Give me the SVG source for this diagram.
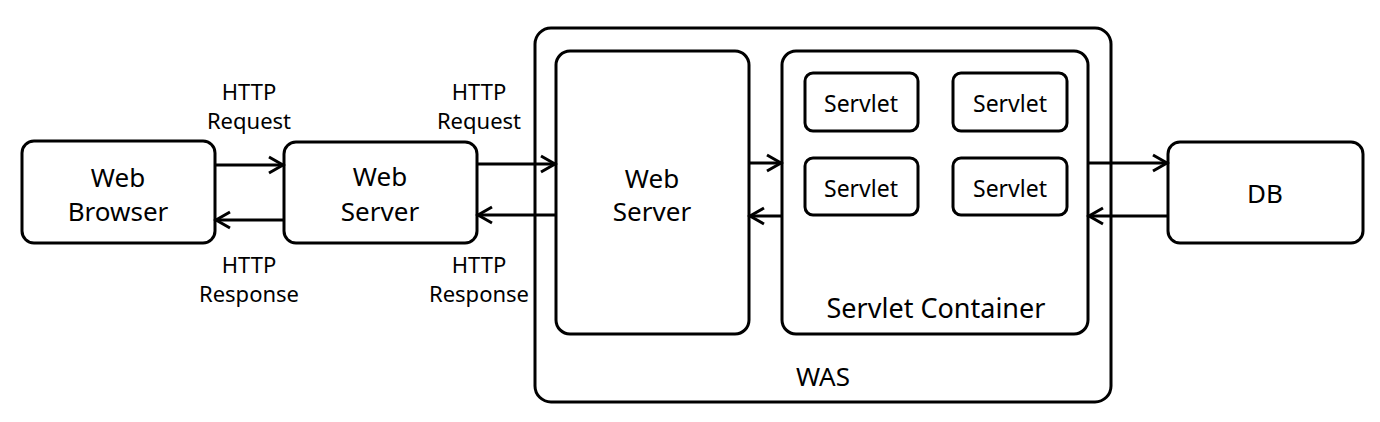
<svg xmlns="http://www.w3.org/2000/svg" width="1380" height="422" viewBox="0 0 1380 422">
<style>
.box{fill:#fff;stroke:#000;stroke-width:3}
.t{font-family:"Noto Sans","Liberation Sans",sans-serif;fill:#000;text-anchor:middle}
.big{font-size:26px}
.sc{font-size:27px}
.lbl{font-size:22px}
.sv{font-size:23px}
.conn{stroke:#000;stroke-width:3;fill:none;marker-end:url(#arr)}
</style>
<defs>
<marker id="arr" markerUnits="userSpaceOnUse" markerWidth="20" markerHeight="20" viewBox="0 0 20 20" refX="18" refY="10" orient="auto">
<path d="M3,2 L17,10 L3,18" fill="none" stroke="#000" stroke-width="3" stroke-linejoin="miter"/>
</marker>
</defs>
<rect width="1380" height="422" fill="#fff"/>
<g id="was">
<rect class="box" x="535" y="28" width="576" height="374" rx="16"/>
<text class="t big" x="823" y="386">WAS</text>
</g>
<g id="web-browser">
<rect class="box" x="22" y="141" width="193" height="102" rx="12"/>
<text class="t big" x="118" y="187">Web</text>
<text class="t big" x="118" y="221">Browser</text>
</g>
<g id="web-server-1">
<rect class="box" x="284" y="142" width="193" height="101" rx="12"/>
<text class="t big" x="380" y="186">Web</text>
<text class="t big" x="380" y="221">Server</text>
</g>
<g id="web-server-2">
<rect class="box" x="556" y="51" width="193" height="283" rx="14"/>
<text class="t big" x="652" y="188">Web</text>
<text class="t big" x="652" y="221">Server</text>
</g>
<g id="servlet-container">
<rect class="box" x="782" y="51" width="306" height="283" rx="14"/>
<text class="t sc" x="936" y="318">Servlet Container</text>
</g>
<g id="servlet-1">
<rect class="box" x="805" y="73" width="113" height="58" rx="8"/>
<text class="t sv" x="861" y="112">Servlet</text>
</g>
<g id="servlet-2">
<rect class="box" x="953" y="73" width="114" height="58" rx="8"/>
<text class="t sv" x="1010" y="112">Servlet</text>
</g>
<g id="servlet-3">
<rect class="box" x="805" y="158" width="113" height="57" rx="8"/>
<text class="t sv" x="861" y="197">Servlet</text>
</g>
<g id="servlet-4">
<rect class="box" x="953" y="158" width="114" height="57" rx="8"/>
<text class="t sv" x="1010" y="197">Servlet</text>
</g>
<g id="db">
<rect class="box" x="1168" y="142" width="195" height="101" rx="12"/>
<text class="t big" x="1265" y="203">DB</text>
</g>
<g id="connectors">
<line class="conn" x1="215" y1="165" x2="284" y2="165"/>
<line class="conn" x1="284" y1="220" x2="215" y2="220"/>
<line class="conn" x1="477" y1="164" x2="556" y2="164"/>
<line class="conn" x1="556" y1="215" x2="477" y2="215"/>
<line class="conn" x1="749" y1="163" x2="782" y2="163"/>
<line class="conn" x1="782" y1="216" x2="749" y2="216"/>
<line class="conn" x1="1088" y1="163" x2="1168" y2="163"/>
<line class="conn" x1="1168" y1="216" x2="1088" y2="216"/>
<text class="t lbl" x="249" y="100">HTTP</text>
<text class="t lbl" x="249" y="129">Request</text>
<text class="t lbl" x="249" y="273">HTTP</text>
<text class="t lbl" x="249" y="302">Response</text>
<text class="t lbl" x="479" y="100">HTTP</text>
<text class="t lbl" x="479" y="129">Request</text>
<text class="t lbl" x="479" y="273">HTTP</text>
<text class="t lbl" x="479" y="302">Response</text>
</g>
</svg>
